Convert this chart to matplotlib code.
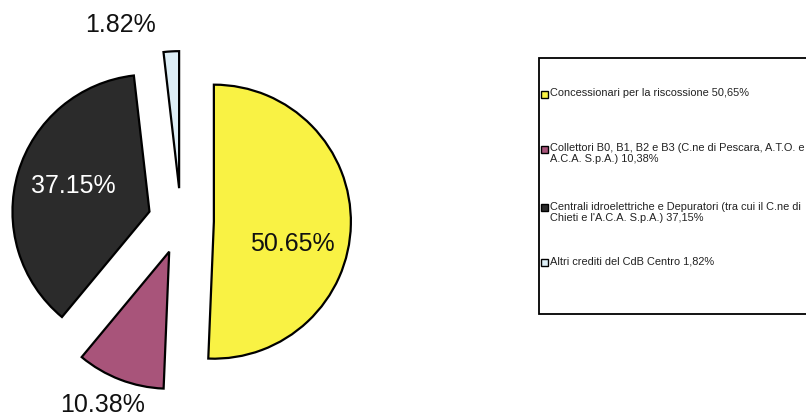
import matplotlib
matplotlib.use("Agg")
import matplotlib.pyplot as plt
from matplotlib.patches import Rectangle

plt.rcParams['font.family'] = ['Liberation Sans', 'DejaVu Sans']

# Data
categories = [
    "Concessionari per la riscossione 50,65%",
    "Collettori B0, B1, B2 e B3 (C.ne di Pescara, A.T.O. e\nA.C.A. S.p.A.) 10,38%",
    "Centrali idroelettriche e Depuratori (tra cui il C.ne di\nChieti e l'A.C.A. S.p.A.) 37,15%",
    "Altri crediti del CdB Centro 1,82%",
]
values = [50.65, 10.38, 37.15, 1.82]
value_labels = ["50.65%", "10.38%", "37.15%", "1.82%"]
colors = ["#F9F244", "#A8547A", "#2B2B2B", "#DDEEF6"]
label_colors = ["#111111", "#111111", "#FFFFFF", "#111111"]

W, H = 806, 417
fig = plt.figure(figsize=(W / 100, H / 100), dpi=100)

# Pie axes: left 400 px of the figure, 1 data unit = 137 px
R = 137.0
cx, cy = 181.0, 221.0  # pixel center (from top-left)
ax = fig.add_axes([0, 0, 400 / W, 1])

wedges, _ = ax.pie(values, colors=colors, startangle=90, counterclock=False,
                   explode=[0.24] * len(values), radius=1.0,
                   wedgeprops=dict(edgecolor='black', linewidth=1.6))
ax.set_aspect('auto')
ax.set_xlim(-cx / R, (400 - cx) / R)
ax.set_ylim(-(H - cy) / R, cy / R)
ax.axis('off')

# Data labels (pixel positions converted to data units)
label_px = [(292, 244), (103, 405), (73, 186), (120, 25)]
for (px, py), txt, c in zip(label_px, value_labels, label_colors):
    ax.text((px - cx) / R, (cy - py) / R, txt, ha='center', va='center',
            fontsize=18, color=c)

# Legend drawn manually
lx0, ly0, ly1 = 539, 58, 314
fig.patches.append(Rectangle((lx0 / W, 1 - ly1 / H), (W + 10 - lx0) / W, (ly1 - ly0) / H,
                             transform=fig.transFigure, facecolor='white',
                             edgecolor='black', linewidth=1.3, zorder=0))
entry_y = [94, 149, 208, 262]
for y, lab, col in zip(entry_y, categories, colors):
    fig.patches.append(Rectangle((541 / W, 1 - (y + 3.5) / H), 7 / W, 7 / H,
                                 transform=fig.transFigure, facecolor=col,
                                 edgecolor='black', linewidth=1.0, zorder=2))
    fig.text(550 / W, 1 - (y - 6) / H, lab, ha='left', va='top', fontsize=7.9,
             color='#222222', linespacing=1.15)

fig.savefig("out.png", dpi=100, facecolor='white')
